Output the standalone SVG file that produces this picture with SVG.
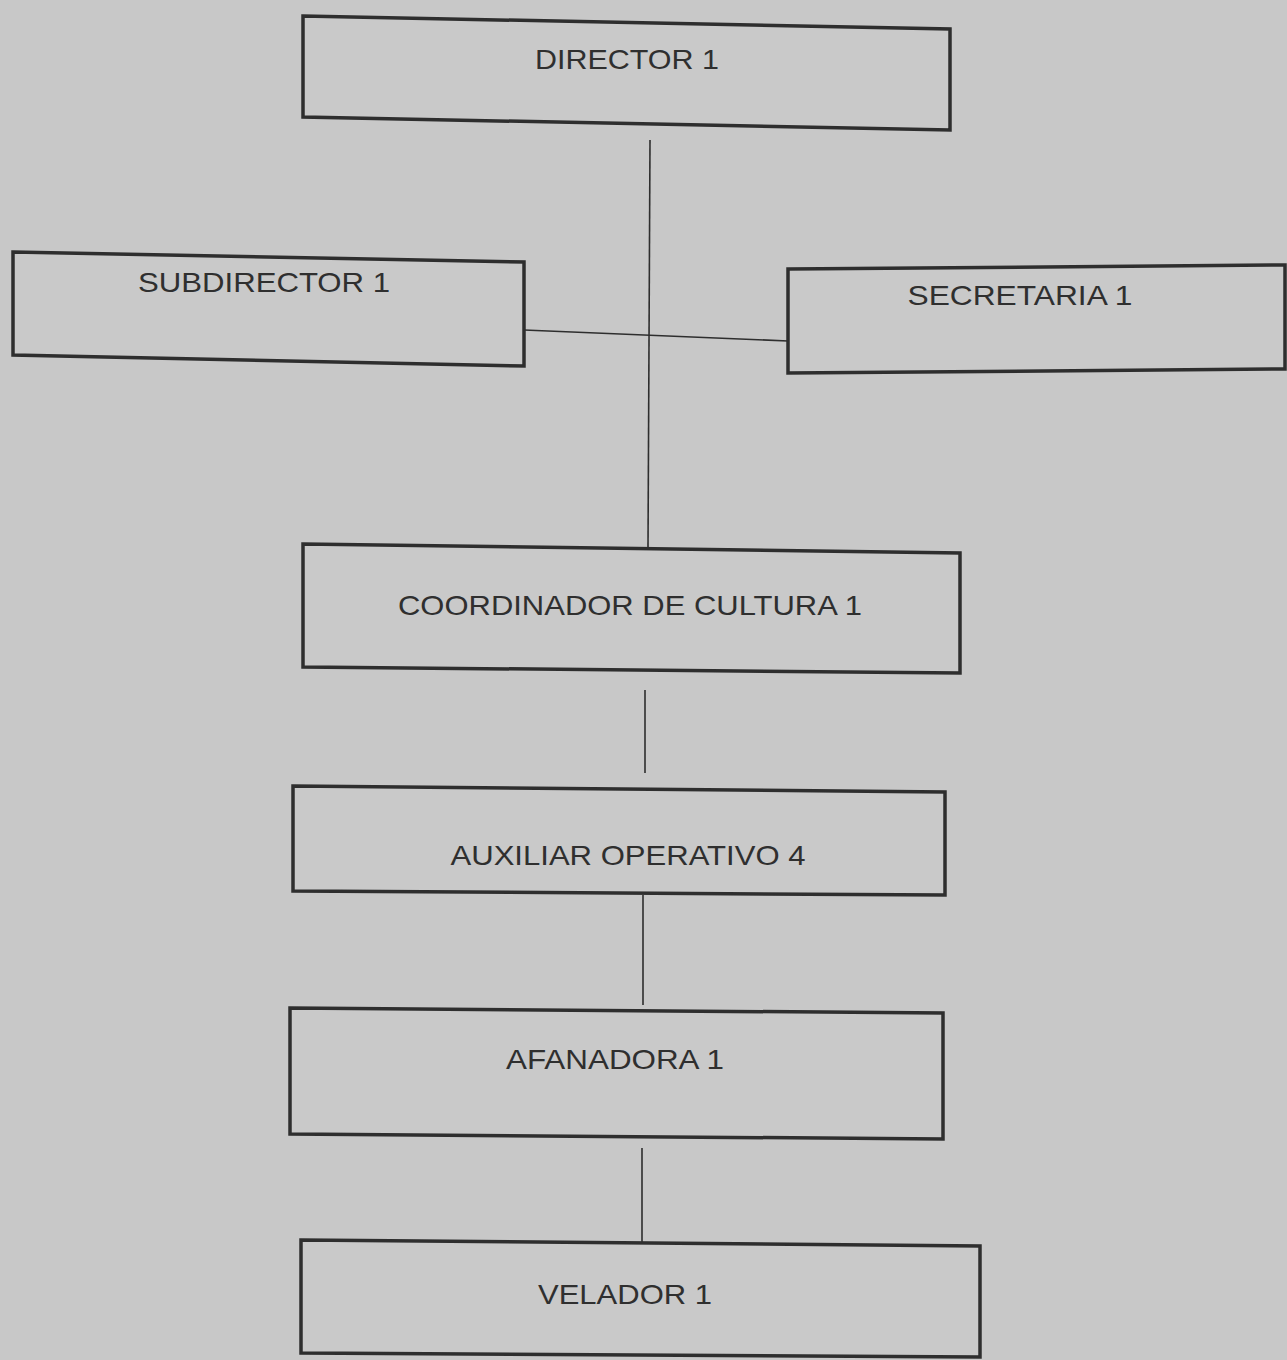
<svg xmlns="http://www.w3.org/2000/svg" width="1287" height="1360" viewBox="0 0 1287 1360">
<style>
.box{fill:#c9c9c9;stroke:#2e2e2e;stroke-width:3.5;stroke-linejoin:miter}
.lbl{font-family:"Liberation Sans",Arial,sans-serif;font-size:28px;fill:#2f2f2f;text-anchor:middle}
.ln{stroke:#2e2e2e;stroke-width:1.6;fill:none}
</style>
<rect width="1287" height="1360" fill="#c8c8c8"/>
<g id="connectors">
<line class="ln" x1="650" y1="140" x2="648" y2="548"/>
<line class="ln" x1="524" y1="330" x2="788" y2="341"/>
<line class="ln" x1="645" y1="690" x2="645" y2="773"/>
<line class="ln" x1="643" y1="895" x2="643" y2="1005"/>
<line class="ln" x1="642" y1="1148" x2="642" y2="1242"/>
</g>
<g id="director">
<polygon class="box" points="303,16 950,29 950,130 303,117"/>
<text class="lbl" x="627" y="69" textLength="184" lengthAdjust="spacingAndGlyphs">DIRECTOR 1</text>
</g>
<g id="subdirector">
<polygon class="box" points="13,252 524,262 524,366 13,355"/>
<text class="lbl" x="264" y="292" textLength="252" lengthAdjust="spacingAndGlyphs">SUBDIRECTOR 1</text>
</g>
<g id="secretaria">
<polygon class="box" points="788,269 1285,265 1285,369 788,373"/>
<text class="lbl" x="1020" y="305" textLength="225" lengthAdjust="spacingAndGlyphs">SECRETARIA 1</text>
</g>
<g id="coordinador">
<polygon class="box" points="303,544 960,553 960,673 303,667"/>
<text class="lbl" x="630" y="615" textLength="464" lengthAdjust="spacingAndGlyphs">COORDINADOR DE CULTURA 1</text>
</g>
<g id="auxiliar">
<polygon class="box" points="293,786 945,792 945,895 293,891"/>
<text class="lbl" x="628" y="865" textLength="355" lengthAdjust="spacingAndGlyphs">AUXILIAR OPERATIVO 4</text>
</g>
<g id="afanadora">
<polygon class="box" points="290,1008 943,1013 943,1139 290,1134"/>
<text class="lbl" x="615" y="1069" textLength="218" lengthAdjust="spacingAndGlyphs">AFANADORA 1</text>
</g>
<g id="velador">
<polygon class="box" points="301,1240 980,1246 980,1357 301,1353"/>
<text class="lbl" x="625" y="1304" textLength="174" lengthAdjust="spacingAndGlyphs">VELADOR 1</text>
</g>
</svg>
